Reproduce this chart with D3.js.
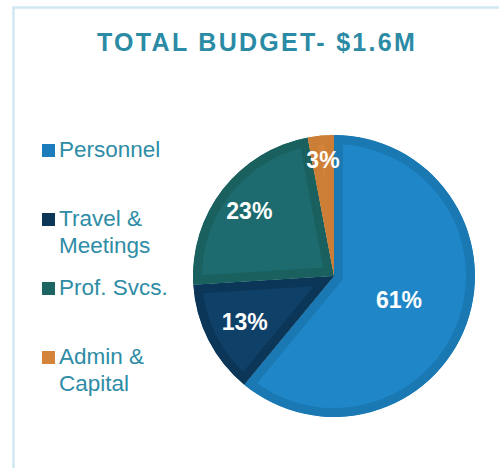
<!DOCTYPE html>
<html lang="en">
<head>
    <meta charset="UTF-8">
    <title>Total Budget</title>
    <script src="https://d3js.org/d3.v7.min.js"></script>
    <style>
        body { margin: 0; background: white; font-family: Arial, "Liberation Sans", sans-serif; }
        svg { display: block; }
    </style>
</head>
<body>
    <svg width="499" height="468"></svg>

    <script>
        // data
        const categories = ["Personnel", "Travel & Meetings", "Prof. Svcs.", "Admin & Capital"];
        const shares = [61, 13, 23, 3];
        const titleText = "TOTAL BUDGET- $1.6M";

        const fills = ["#1F87C8", "#0F4068", "#1D6B6E", "#D4843A"];
        const edges = ["#1A78B3", "#0C3658", "#19605F", "#CC7E36"];
        const swatches = ["#1B7BBB", "#0C3658", "#1D6464", "#D4843A"];
        // Excel-ish label distance from center, as fraction of radius
        const labelPos = [0.49, 0.71, 0.76, 0.83];

        const svg = d3.select("svg");
        const teal = "#2E8CA6";

        // light frame
        svg.append("rect")
            .attr("x", 13.5).attr("y", 7.5)
            .attr("width", 520).attr("height", 500)
            .attr("fill", "none")
            .attr("stroke", "#CFE8F2")
            .attr("stroke-width", 2.5);

        svg.append("text")
            .attr("x", 97).attr("y", 51)
            .attr("fill", "#2B8BA5")
            .style("font-size", "25px")
            .style("font-weight", "bold")
            .style("letter-spacing", "2.3px")
            .text(titleText);

        // pie
        const cx = 334, cy = 276, radius = 141;
        const pie = d3.pie().sort(null).value(d => d);
        const arcs = pie(shares);
        const arc = d3.arc().innerRadius(0).outerRadius(radius);

        const g = svg.append("g").attr("transform", `translate(${cx},${cy})`);
        const defs = svg.append("defs");

        arcs.forEach((a, i) => {
            defs.append("clipPath").attr("id", "clip" + i)
                .append("path").attr("d", arc(a));
            g.append("path")
                .attr("d", arc(a))
                .attr("fill", fills[i])
                .attr("stroke", edges[i])
                .attr("stroke-width", 18)
                .attr("stroke-linejoin", "miter")
                .attr("clip-path", `url(#clip${i})`);
        });

        g.selectAll("text.pct")
            .data(arcs)
            .join("text")
            .attr("class", "pct")
            .attr("transform", (d, i) => {
                const mid = (d.startAngle + d.endAngle) / 2;
                const r = radius * labelPos[i];
                return `translate(${Math.sin(mid) * r},${-Math.cos(mid) * r})`;
            })
            .attr("text-anchor", "middle")
            .attr("dy", "0.36em")
            .attr("fill", "white")
            .style("font-size", "23px")
            .style("font-weight", "bold")
            .text(d => d.data + "%");

        // legend
        const legendTop = 157, legendStep = 69, lineH = 27;
        const legend = svg.append("g");
        categories.forEach((name, i) => {
            const y = legendTop + i * legendStep;
            legend.append("rect")
                .attr("x", 42).attr("y", y - 13)
                .attr("width", 13).attr("height", 13)
                .attr("fill", swatches[i]);
            const lines = name.split(/(?<=&) /);
            const t = legend.append("text")
                .attr("x", 59).attr("y", y)
                .attr("fill", teal)
                .style("font-size", "22.5px");
            lines.forEach((ln, j) => {
                t.append("tspan").attr("x", 59).attr("y", y + j * lineH).text(ln);
            });
        });
    </script>
</body>
</html>
